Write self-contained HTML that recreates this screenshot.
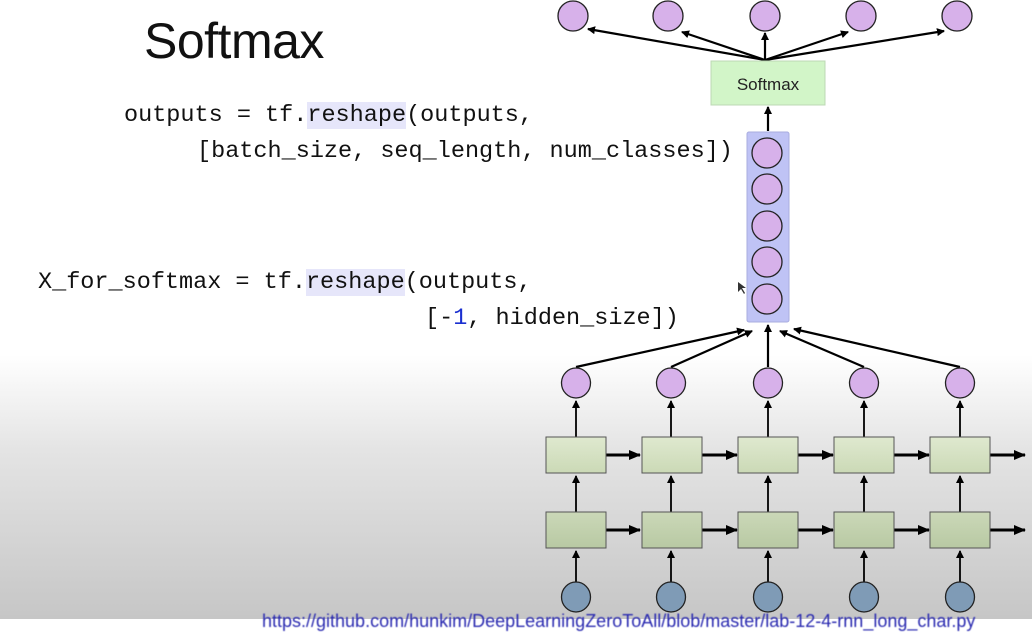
<!DOCTYPE html>
<html><head><style>
html,body{margin:0;padding:0}
body{width:1032px;height:619px;overflow:hidden;position:relative;background:linear-gradient(to bottom,#fff 0,#fff 355px,#e4e4e4 450px,#c6c6c6 619px);font-family:"Liberation Sans",sans-serif}
.code{position:absolute;font-family:"Liberation Mono",monospace;font-size:23.5px;color:#111;white-space:pre;line-height:1}
.hl{background:#e6e6fa}
</style></head><body>
<div style="position:absolute;left:144px;top:12px;font-size:50px;color:#111;letter-spacing:-0.5px">Softmax</div>
<div class="code" style="left:124px;top:104px">outputs = tf.<span class="hl">reshape</span>(outputs,</div>
<div class="code" style="left:197px;top:140px">[batch_size, seq_length, num_classes])</div>
<div class="code" style="left:38px;top:271px">X_for_softmax = tf.<span class="hl">reshape</span>(outputs,</div>
<div class="code" style="left:425px;top:307px">[-<span style="color:#1a2fd0">1</span>, hidden_size])</div>
<div style="position:absolute;left:262px;top:611px;font-size:18px;color:#2a2ab0;filter:blur(0.6px);white-space:nowrap">https://github.com/hunkim/DeepLearningZeroToAll/blob/master/lab-12-4-rnn_long_char.py</div>
<svg width="1032" height="619" style="position:absolute;left:0;top:0">
<defs>
<marker id="a" markerWidth="8" markerHeight="8" refX="7" refY="4" orient="auto" markerUnits="userSpaceOnUse"><path d="M0,0 L8,4 L0,8 z" fill="#000"/></marker>
<marker id="b" markerWidth="12" markerHeight="10" refX="11" refY="5" orient="auto" markerUnits="userSpaceOnUse"><path d="M0,0 L12,5 L0,10 z" fill="#000"/></marker>
<linearGradient id="g1" x1="0" y1="0" x2="0" y2="1"><stop offset="0" stop-color="#dfe9cf"/><stop offset="1" stop-color="#cbd9b6"/></linearGradient>
<linearGradient id="g2" x1="0" y1="0" x2="0" y2="1"><stop offset="0" stop-color="#cbd8b8"/><stop offset="1" stop-color="#b8c9a3"/></linearGradient>
</defs>
<g stroke="#000" stroke-width="2.2" fill="none">
<line x1="765" y1="60" x2="588" y2="29" marker-end="url(#a)"/>
<line x1="765" y1="60" x2="682" y2="32" marker-end="url(#a)"/>
<line x1="765" y1="60" x2="765" y2="33" marker-end="url(#a)"/>
<line x1="765" y1="60" x2="848" y2="32" marker-end="url(#a)"/>
<line x1="765" y1="60" x2="944" y2="31" marker-end="url(#a)"/>
<line x1="768" y1="131" x2="768" y2="107" marker-end="url(#a)"/>
<line x1="576" y1="367" x2="744" y2="330" marker-end="url(#a)"/>
<line x1="671" y1="367" x2="752" y2="331" marker-end="url(#a)"/>
<line x1="768" y1="367" x2="768" y2="325" marker-end="url(#a)"/>
<line x1="864" y1="367" x2="780" y2="331" marker-end="url(#a)"/>
<line x1="960" y1="367" x2="794" y2="329" marker-end="url(#a)"/>
</g>
<g fill="#d7b1ea" stroke="#222" stroke-width="1.3">
<circle cx="573" cy="16" r="15"/><circle cx="668" cy="16" r="15"/><circle cx="765" cy="16" r="15"/><circle cx="861" cy="16" r="15"/><circle cx="957" cy="16" r="15"/>
</g>
<rect x="711" y="61" width="114" height="44" fill="#d2f5c8" stroke="#bcd8b4" stroke-width="1"/>
<text x="768" y="90" text-anchor="middle" font-size="17" fill="#222" font-family="Liberation Sans">Softmax</text>
<rect x="747" y="132" width="42" height="190" rx="2" fill="#bfc3f5" stroke="#a8acdf"/>
<g fill="#d7b1ea" stroke="#222" stroke-width="1.3">
<circle cx="767" cy="153" r="15"/><circle cx="767" cy="189" r="15"/><circle cx="767" cy="226" r="15"/><circle cx="767" cy="262" r="15"/><circle cx="767" cy="299" r="15"/>
</g>
<path d="M738,282 l0,10 l3,-3 l3,5 l1,-1 l-3,-5 l4,0 z" fill="#333"/>
<g stroke="#000" stroke-width="1.8" fill="none">
<line x1="576" y1="582" x2="576" y2="551" marker-end="url(#a)"/><line x1="671" y1="582" x2="671" y2="551" marker-end="url(#a)"/><line x1="768" y1="582" x2="768" y2="551" marker-end="url(#a)"/><line x1="864" y1="582" x2="864" y2="551" marker-end="url(#a)"/><line x1="960" y1="582" x2="960" y2="551" marker-end="url(#a)"/>
<line x1="576" y1="512" x2="576" y2="476" marker-end="url(#a)"/><line x1="671" y1="512" x2="671" y2="476" marker-end="url(#a)"/><line x1="768" y1="512" x2="768" y2="476" marker-end="url(#a)"/><line x1="864" y1="512" x2="864" y2="476" marker-end="url(#a)"/><line x1="960" y1="512" x2="960" y2="476" marker-end="url(#a)"/>
<line x1="576" y1="437" x2="576" y2="401" marker-end="url(#a)"/><line x1="671" y1="437" x2="671" y2="401" marker-end="url(#a)"/><line x1="768" y1="437" x2="768" y2="401" marker-end="url(#a)"/><line x1="864" y1="437" x2="864" y2="401" marker-end="url(#a)"/><line x1="960" y1="437" x2="960" y2="401" marker-end="url(#a)"/>
</g>
<g stroke="#000" stroke-width="3" fill="none">
<line x1="606" y1="455" x2="640" y2="455" marker-end="url(#b)"/><line x1="702" y1="455" x2="737" y2="455" marker-end="url(#b)"/><line x1="798" y1="455" x2="833" y2="455" marker-end="url(#b)"/><line x1="894" y1="455" x2="929" y2="455" marker-end="url(#b)"/><line x1="990" y1="455" x2="1025" y2="455" marker-end="url(#b)"/>
<line x1="606" y1="530" x2="640" y2="530" marker-end="url(#b)"/><line x1="702" y1="530" x2="737" y2="530" marker-end="url(#b)"/><line x1="798" y1="530" x2="833" y2="530" marker-end="url(#b)"/><line x1="894" y1="530" x2="929" y2="530" marker-end="url(#b)"/><line x1="990" y1="530" x2="1025" y2="530" marker-end="url(#b)"/>
</g>
<g fill="url(#g1)" stroke="#555" stroke-width="1">
<rect x="546" y="437" width="60" height="36"/><rect x="642" y="437" width="60" height="36"/><rect x="738" y="437" width="60" height="36"/><rect x="834" y="437" width="60" height="36"/><rect x="930" y="437" width="60" height="36"/>
</g>
<g fill="url(#g2)" stroke="#555" stroke-width="1">
<rect x="546" y="512" width="60" height="36"/><rect x="642" y="512" width="60" height="36"/><rect x="738" y="512" width="60" height="36"/><rect x="834" y="512" width="60" height="36"/><rect x="930" y="512" width="60" height="36"/>
</g>
<g fill="#d7b1ea" stroke="#222" stroke-width="1.3">
<ellipse cx="576" cy="383" rx="14.5" ry="15"/><ellipse cx="671" cy="383" rx="14.5" ry="15"/><ellipse cx="768" cy="383" rx="14.5" ry="15"/><ellipse cx="864" cy="383" rx="14.5" ry="15"/><ellipse cx="960" cy="383" rx="14.5" ry="15"/>
</g>
<g fill="#7f9bb6" stroke="#222" stroke-width="1.3">
<ellipse cx="576" cy="597" rx="14.5" ry="15"/><ellipse cx="671" cy="597" rx="14.5" ry="15"/><ellipse cx="768" cy="597" rx="14.5" ry="15"/><ellipse cx="864" cy="597" rx="14.5" ry="15"/><ellipse cx="960" cy="597" rx="14.5" ry="15"/>
</g>
</svg>
</body></html>
